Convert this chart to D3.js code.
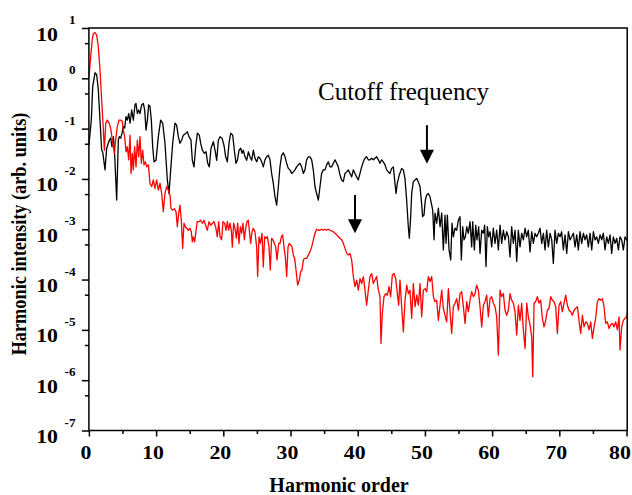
<!DOCTYPE html>
<html><head><meta charset="utf-8">
<script src="https://cdn.jsdelivr.net/npm/d3@7"></script>
<style>body{margin:0;background:#fff} svg{display:block}</style>
</head><body>
<svg id="c" width="632" height="495"></svg>
<script>
// [harmonic order, log10(harmonic intensity)]
const blackData = [[0,-1.33],[0.36,-0.83],[0.56,-0.17],[0.91,0.11],[1.16,0.07],[1.40,-0.23],[1.65,-0.83],[1.90,-1.43],[2.05,-1.46],[2.40,-1.82],[2.64,-1.39],[3.04,-1.23],[3.24,-1.19],[3.44,-1.36],[3.64,-1.16],[3.79,-1.39],[4.13,-2.42],[4.38,-1.23],[4.53,-1.16],[4.73,-1.19],[4.93,-1.09],[5.12,-0.96],[5.32,-0.99],[5.52,-0.76],[5.72,-0.83],[5.92,-0.70],[6.12,-0.89],[6.37,-0.63],[6.61,-0.83],[6.86,-0.53],[7.01,-0.50],[7.21,-0.70],[7.41,-0.63],[7.60,-0.70],[7.85,-0.53],[8.10,-0.50],[8.30,-0.63],[8.50,-1.03],[8.70,-0.83],[8.89,-0.53],[9.09,-0.56],[9.29,-0.83],[9.49,-1.36],[9.69,-1.66],[9.99,-1.63],[10.33,-1.16],[10.68,-0.83],[10.98,-0.89],[11.32,-1.29],[11.67,-2.02],[11.92,-2.29],[12.17,-1.82],[12.47,-1.29],[12.81,-0.89],[13.06,-0.93],[13.31,-1.16],[13.56,-1.29],[13.80,-1.23],[14.05,-1.13],[14.45,-1.09],[14.65,-1.06],[14.89,-1.16],[15.19,-1.23],[15.39,-1.63],[15.64,-1.76],[15.89,-1.36],[16.14,-1.09],[16.43,-1.13],[16.63,-1.29],[16.88,-1.43],[17.18,-1.49],[17.43,-1.46],[17.68,-1.69],[17.92,-1.76],[18.17,-1.39],[18.52,-1.26],[18.77,-1.43],[19.02,-1.63],[19.26,-1.23],[19.51,-1.16],[19.81,-1.19],[20.10,-1.33],[20.35,-1.56],[20.60,-1.66],[20.85,-1.29],[21.10,-1.09],[21.40,-1.13],[21.64,-1.43],[21.89,-1.69],[22.09,-1.63],[22.34,-1.43],[22.59,-1.39],[22.79,-1.49],[22.98,-1.43],[23.23,-1.56],[23.48,-1.63],[23.73,-1.46],[23.97,-1.56],[24.22,-1.63],[24.47,-1.43],[24.72,-1.59],[24.97,-1.66],[25.21,-1.56],
[25.46,-1.59],[25.71,-1.66],[25.95,-1.76],[26.20,-1.62],[26.45,-1.56],[26.70,-1.53],[26.95,-1.62],[27.19,-1.89],[27.44,-2.09],[27.69,-2.35],[27.94,-2.52],[28.19,-2.15],[28.43,-1.76],[28.68,-1.53],[28.93,-1.48],[29.18,-1.56],[29.43,-1.69],[29.67,-1.79],[29.92,-1.82],[30.17,-1.89],[30.42,-1.86],[30.67,-1.82],[30.91,-1.76],[31.16,-1.72],[31.41,-1.69],[31.66,-1.76],[31.91,-1.89],[32.15,-1.82],[32.40,-1.62],[32.65,-1.56],[32.90,-1.56],[33.15,-1.62],[33.39,-1.82],[33.64,-2.15],[33.89,-2.29],[34.14,-2.42],[34.39,-2.15],[34.63,-1.89],[34.88,-1.82],[35.13,-1.82],[35.38,-1.72],[35.63,-1.66],[35.87,-1.76],[36.12,-1.76],[36.37,-1.69],[36.62,-1.62],[36.87,-1.69],[37.11,-1.76],[37.36,-1.92],[37.61,-2.02],[37.86,-2.05],[38.11,-1.89],[38.35,-1.86],[38.60,-1.82],[38.85,-1.89],[39.10,-1.96],[39.35,-1.82],[39.59,-1.89],[39.84,-1.96],[40.09,-2.02],[40.34,-1.89],[40.59,-1.76],[40.83,-1.66],[41.08,-1.59],[41.33,-1.56],[41.58,-1.62],[41.83,-1.62],[42.07,-1.59],[42.32,-1.62],[42.57,-1.59],[42.82,-1.56],[43.07,-1.62],[43.31,-1.69],[43.56,-1.62],[43.81,-1.66],[44.06,-1.72],[44.31,-1.82],[44.55,-1.86],[44.80,-1.89],[45.05,-1.79],[45.30,-1.76],[45.55,-2.09],[45.70,-2.29],[45.89,-2.09],[46.19,-1.92],[46.54,-1.79],[46.79,-1.82],[47.03,-1.99],[47.28,-2.42],[47.53,-2.95],[47.68,-3.18],[47.88,-2.75],[48.03,-2.29],[48.27,-2.06],[48.52,-2.02],[48.77,-1.99],[49.02,-2.06],[49.27,-2.15],[49.51,-2.49],[49.66,-2.75],[49.86,-2.72],[50.06,-2.42],[50.26,-2.32],[50.50,-2.29],[50.75,-2.35],
[51.16,-2.62],[51.36,-3.21],[51.50,-2.68],[51.75,-2.88],[52.00,-2.58],[52.25,-2.95],[52.50,-2.68],[52.74,-3.41],[52.99,-2.72],[53.14,-3.28],[53.34,-2.72],[53.59,-3.41],[53.84,-3.61],[54.03,-2.88],[54.23,-3.15],[54.48,-2.98],[54.73,-3.02],[54.98,-2.82],[55.22,-2.75],[55.42,-3.61],[55.62,-2.95],[55.82,-3.21],[56.02,-3.15],[56.22,-2.95],[56.46,-3.08],[56.71,-2.85],[56.96,-3.35],[57.11,-2.85],[57.36,-3.41],[57.56,-2.92],[57.75,-3.21],[58.00,-2.95],[58.20,-3.48],[58.45,-3.02],[58.70,-3.08],[58.89,-2.92],[59.09,-3.74],[59.29,-2.95],[59.49,-3.15],[59.69,-3.05],[59.94,-3.35],[60.18,-2.98],[60.43,-3.28],[60.68,-3.02],[60.93,-3.41],[61.18,-2.92],[61.42,-3.28],[61.67,-3.02],[61.92,-3.21],[62.17,-3.05],[62.42,-3.15],[62.66,-3.55],[62.91,-2.95],[63.16,-3.28],[63.41,-3.02],[63.66,-3.64],[63.90,-3.02],[64.15,-3.35],[64.40,-3.08],[64.65,-3.21],[64.90,-2.98],[65.14,-3.15],[65.39,-3.02],[65.64,-3.45],[65.89,-3.05],[66.14,-3.28],[66.38,-3.08],[66.63,-3.15],[66.88,-3.08],[67.13,-2.98],[67.38,-3.28],[67.63,-3.08],[67.87,-3.41],[68.12,-3.02],[68.37,-3.35],[68.62,-3.08],[68.87,-3.21],[69.11,-3.68],[69.36,-3.02],[69.61,-3.28],[69.86,-3.08],[70.11,-3.15],[70.35,-3.05],[70.60,-3.41],[70.85,-3.11],[71.10,-3.48],[71.35,-3.05],[71.59,-3.21],[71.84,-3.15],[72.09,-3.08],[72.34,-3.35],[72.59,-3.11],[72.83,-3.41],[73.08,-3.05],[73.33,-3.28],[73.58,-3.08],[73.83,-3.21],[74.07,-3.11],[74.32,-3.35],[74.57,-3.08],[74.82,-3.41],[75.07,-3.05],[75.31,-3.21],[75.56,-3.15],[75.81,-3.28],[76.06,-3.11],[76.31,-3.21],[76.55,-3.08],[76.80,-3.41],[77.05,-3.15],[77.30,-3.28],[77.55,-3.11],[77.79,-3.48],[78.04,-3.15],[78.29,-3.28],[78.54,-3.18],[78.79,-3.41],[79.03,-3.15],[79.28,-3.21],[79.53,-3.41],[79.78,-3.15],[80.03,-3.21],[80.27,-3.18]];

const redData = [[0,0.00],[0.31,0.50],[0.51,0.79],[0.66,0.89],[0.91,0.91],[1.16,0.86],[1.40,0.63],[1.65,0.17],[1.90,-0.43],[2.15,-1.03],[2.30,-1.43],[2.50,-0.90],[2.74,-0.83],[3.04,-0.90],[3.29,-1.03],[3.54,-1.29],[3.79,-1.49],[3.98,-1.23],[4.23,-0.96],[4.48,-0.83],[4.73,-0.83],[4.98,-0.86],[5.12,-1.03],[5.32,-1.16],[5.52,-1.46],[5.72,-1.36],[5.92,-1.62],[6.12,-1.13],[6.27,-1.89],[6.47,-1.49],[6.61,-1.82],[6.81,-1.36],[7.01,-1.76],[7.21,-1.23],[7.41,-1.56],[7.60,-1.16],[7.80,-1.69],[8.00,-1.43],[8.20,-1.72],[8.40,-1.66],[8.60,-1.76],[8.85,-1.72],
[9.09,-2.09],[9.34,-2.15],[9.59,-2.02],[9.83,-2.19],[10.08,-2.02],[10.33,-2.22],[10.58,-2.09],[10.83,-2.29],[11.07,-2.65],[11.32,-2.29],[11.57,-2.15],[11.82,-2.22],[12.07,-2.32],[12.22,-2.59],[12.46,-2.62],[12.71,-2.59],[12.96,-2.65],[13.16,-2.95],[13.36,-2.68],[13.55,-2.52],[13.75,-2.82],[13.95,-3.38],[14.15,-2.88],[14.35,-2.95],[14.55,-2.98],[14.79,-3.02],[15.04,-2.98],[15.24,-3.05],[15.39,-3.25],[15.54,-3.15],[15.74,-3.25],[15.94,-3.02],[16.13,-2.85],[16.38,-2.85],[16.63,-2.82],[16.88,-2.88],[17.13,-2.82],[17.37,-2.92],[17.62,-3.02],[17.87,-2.85],[18.12,-2.92],[18.37,-2.88],[18.61,-2.85],[18.86,-2.95],[19.11,-3.15],[19.31,-2.85],[19.51,-3.15],[19.75,-3.21],[19.95,-2.85],[20.20,-2.88],[20.40,-3.02],[20.60,-2.85],[20.80,-3.02],[20.99,-2.88],[21.19,-3.02],[21.34,-3.35],[21.54,-2.88],[21.74,-2.98],[21.94,-3.18],[22.14,-2.88],[22.33,-3.28],[22.53,-2.95],[22.73,-3.08],[22.93,-2.88],[23.13,-3.21],[23.33,-2.98],[23.52,-2.85],[23.72,-2.82],[23.87,-3.02],[24.07,-3.28],[24.27,-3.05],[24.47,-2.98],[24.71,-3.05],[24.96,-3.35],[25.11,-3.94],[25.31,-3.15],[25.51,-3.28],[25.76,-3.08],[25.95,-3.75],[26.15,-3.15],[26.35,-3.18],[26.55,-3.15],[26.80,-3.35],[26.99,-3.81],[27.19,-3.18],[27.39,-3.21],[27.59,-3.28],[27.79,-3.35],[27.99,-3.61],[28.24,-3.28],[28.44,-3.28],[28.63,-3.15],[28.83,-3.11],[29.03,-3.35],[29.23,-3.55],[29.43,-3.94],[29.63,-3.35],[29.82,-3.28],[30.02,-3.31],[30.22,-3.35],[30.42,-3.51],[30.62,-3.58],[30.82,-3.81],[31.06,-4.11],[31.31,-4.01],[31.51,-3.84],[31.71,-3.81],[31.91,-3.61],[32.11,-3.58],[32.40,-3.58],[32.65,-3.51],[32.90,-3.45],[33.15,-3.35],[33.40,-3.21],[33.64,-3.08],[33.89,-3.00],[34.14,-3.02],[34.39,-3.02],[34.64,-3.00],[34.88,-3.02],[35.13,-3.00],[35.38,-3.02],[35.63,-3.00],[35.88,-3.02],[36.12,-3.03],[36.37,-3.05],[36.62,-3.08],[36.87,-3.11],[37.12,-3.15],[37.36,-3.18],[37.61,-3.21],[37.86,-3.28],[38.11,-3.38],[38.36,-3.48],[38.60,-3.51],[38.85,-3.48],[39.10,-3.61],[39.35,-3.94],[39.60,-4.14],[39.84,-4.01],[40.09,-4.21],[40.34,-3.98],[40.59,-4.08],[40.84,-3.94],[41.08,-4.21],[41.33,-4.51],[41.58,-4.21],[41.83,-3.94],[42.08,-3.88],[42.32,-4.08],[42.57,-4.01],[42.82,-3.94],[43.07,-4.21],[43.32,-4.34],[43.46,-5.27],[43.66,-4.67],[43.91,-4.34],[44.16,-4.28],[44.41,-4.31],[44.66,-4.14],[44.90,-4.34],[45.15,-3.91],[45.40,-3.88],[45.65,-3.98],[45.90,-4.28],[46.09,-4.51],[46.29,-4.01],
[46.54,-4.54],[46.79,-5.04],[47.04,-4.41],[47.29,-4.11],[47.54,-4.28],[47.78,-4.21],[48.03,-4.77],[48.28,-4.08],[48.53,-4.54],[48.78,-4.31],[49.02,-4.51],[49.27,-4.08],[49.52,-4.74],[49.77,-4.21],[50.02,-4.18],[50.26,-4.24],[50.51,-3.94],[50.76,-4.04],[51.01,-3.94],[51.26,-4.34],[51.50,-4.44],[51.75,-4.41],[52.00,-4.81],[52.25,-4.51],[52.50,-4.21],[52.74,-4.57],[52.99,-4.71],[53.24,-4.84],[53.49,-4.18],[53.74,-4.64],[53.98,-5.07],[54.23,-4.54],[54.48,-4.47],[54.73,-4.38],[54.98,-4.61],[55.22,-4.28],[55.47,-4.24],[55.72,-4.54],[55.97,-4.87],[56.22,-4.44],[56.46,-4.64],[56.71,-4.41],[56.96,-4.24],[57.21,-4.34],[57.46,-4.28],[57.70,-4.11],[57.95,-4.21],[58.20,-4.54],[58.45,-4.94],[58.70,-4.51],[58.94,-4.44],[59.19,-4.31],[59.44,-4.74],[59.69,-4.38],[59.94,-4.34],[60.18,-4.47],[60.43,-4.54],[60.68,-4.74],[60.93,-5.50],[61.18,-4.21],[61.42,-4.34],[61.67,-4.28],[61.92,-4.61],[62.17,-4.71],[62.42,-4.61],[62.66,-4.28],[62.91,-4.41],[63.16,-4.47],[63.41,-4.64],[63.66,-5.10],[63.91,-4.51],[64.15,-4.81],[64.40,-4.47],[64.65,-5.00],[64.90,-5.37],[65.15,-4.47],[65.39,-4.74],[65.64,-4.90],[65.89,-5.14],[66.04,-5.93],[66.24,-4.47],[66.48,-4.44],[66.73,-4.34],[66.98,-4.47],[67.23,-4.41],[67.48,-4.77],[67.72,-4.94],[67.97,-4.81],[68.22,-4.61],[68.47,-4.57],[68.72,-4.34],[68.96,-4.41],[69.21,-4.44],[69.46,-4.54],[69.71,-5.07],[69.96,-4.51],[70.20,-4.44],[70.45,-4.64],[70.70,-4.47],[70.95,-4.31],[71.20,-4.51],[71.45,-4.61],[71.69,-4.64],[71.94,-4.71],[72.19,-4.61],[72.44,-4.57],[72.69,-4.54],[72.93,-4.81],[73.18,-5.07],[73.43,-4.71],[73.68,-4.94],[73.92,-4.84],[74.17,-4.87],[74.42,-5.00],[74.67,-4.84],[74.92,-5.17],[75.17,-4.94],[75.41,-4.77],[75.66,-4.44],[75.91,-4.38],[76.16,-4.41],[76.41,-4.38],[76.65,-4.54],[76.90,-4.87],[77.15,-4.84],[77.40,-4.97],[77.65,-4.90],[77.89,-4.87],[78.14,-4.94],[78.39,-4.84],[78.64,-5.00],[78.89,-4.74],[79.03,-5.40],[79.28,-4.94],[79.53,-4.81],[79.78,-4.77],[80.03,-4.74],[80.27,-4.57]];

const xTickValues = [0,10,20,30,40,50,60,70,80];
const xMinorTicks = [5,15,25,35,45,55,65,75];
const yExponents = [1,0,-1,-2,-3,-4,-5,-6,-7];
const yMinorTicks = [5,0.5,0.05,0.005,5e-4,5e-5,5e-6,5e-7];
const xTitle = "Harmonic order";
const yTitle = "Harmonic intensity (arb. units)";
const annotationText = "Cutoff frequency";
const arrowOrder = [50.3, 39.6];
const arrowTop = [0.117, 0.0048];
const arrowTip = [0.020, 0.00083];

const FONT = "'Times New Roman','Liberation Serif',serif";
const svg = d3.select("#c");
const W = 632;
const L = 88.9, R = 627.2, T = 28, B = 430.5;
const x = d3.scaleLinear().domain([0, 80.1]).range([L, R]);
const y = d3.scaleLog().domain([1e-7, 10]).range([B, T]);

svg.append("defs").append("clipPath").attr("id", "clip")
  .append("rect").attr("x", L).attr("y", T).attr("width", R - L).attr("height", B - T);

const line = d3.line().x(d => x(d[0])).y(d => y(Math.pow(10, d[1])));
const plot = svg.append("g").attr("clip-path", "url(#clip)");
plot.append("path").datum(blackData).attr("d", line)
  .attr("fill", "none").attr("stroke", "#000").attr("stroke-width", 1.3).attr("stroke-linejoin", "round");
plot.append("path").datum(redData).attr("d", line)
  .attr("fill", "none").attr("stroke", "#ff0000").attr("stroke-width", 1.3).attr("stroke-linejoin", "round");

// axis ticks
function styleAxis(g) { g.select(".domain").remove(); g.selectAll("line").attr("stroke", "#000").attr("stroke-width", 1.5); }
svg.append("g").attr("transform", `translate(0,${B})`)
  .call(d3.axisBottom(x).tickValues(xTickValues).tickSize(6).tickFormat("")).call(styleAxis);
svg.append("g").attr("transform", `translate(0,${B})`)
  .call(d3.axisBottom(x).tickValues(xMinorTicks).tickSize(3.5).tickFormat("")).call(styleAxis);
svg.append("g").attr("transform", `translate(${L},0)`)
  .call(d3.axisLeft(y).tickValues(yExponents.map(e => Math.pow(10, e))).tickSize(7).tickFormat("")).call(styleAxis);
svg.append("g").attr("transform", `translate(${L},0)`)
  .call(d3.axisLeft(y).tickValues(yMinorTicks).tickSize(4).tickFormat("")).call(styleAxis);

// frame
svg.append("rect").attr("x", L).attr("y", T).attr("width", R - L).attr("height", B - T)
  .attr("fill", "none").attr("stroke", "#000").attr("stroke-width", 1.5);

// x tick labels
const xl = svg.append("g");
xTickValues.forEach(v => {
  const cx = Math.min(x(v) - 3, W - 12);
  xl.append("g").attr("transform", `translate(${cx},459) scale(1.15,1)`)
    .append("text").attr("text-anchor", "middle").attr("font-family", FONT)
    .attr("font-weight", "bold").attr("font-size", 19).text(v);
});
// y tick labels 10^n
const yl = svg.append("g");
yExponents.forEach(e => {
  const ty = y(Math.pow(10, e));
  yl.append("g").attr("transform", `translate(58,${ty + 12.5}) scale(1.15,1)`)
    .append("text").attr("text-anchor", "end").attr("font-family", FONT)
    .attr("font-weight", "bold").attr("font-size", 19).text("10");
  yl.append("g").attr("transform", `translate(75.5,${ty - 4}) scale(1.15,1)`)
    .append("text").attr("text-anchor", "end").attr("font-family", FONT)
    .attr("font-weight", "bold").attr("font-size", 11.5).text(String(e));
});

// titles
svg.append("text").attr("x", (L + R) / 2 - 19).attr("y", 492).attr("text-anchor", "middle")
  .attr("font-family", FONT).attr("font-weight", "bold").attr("font-size", 20).text(xTitle);
svg.append("text").attr("transform", `translate(26,234) rotate(-90) scale(1,1.12)`).attr("text-anchor", "middle")
  .attr("font-family", FONT).attr("font-weight", "bold").attr("font-size", 18.3).text(yTitle);

// annotation
svg.append("text").attr("x", 318).attr("y", 100).attr("font-family", FONT)
  .attr("font-size", 25).text(annotationText);
arrowOrder.forEach((a, i) => {
  const ax = x(a), y0 = y(arrowTop[i]), y1 = y(arrowTip[i]);
  svg.append("line").attr("x1", ax).attr("x2", ax).attr("y1", y0).attr("y2", y1 - 12)
    .attr("stroke", "#000").attr("stroke-width", 2);
  svg.append("path").attr("d", `M${ax - 7},${y1 - 14}L${ax + 7},${y1 - 14}L${ax},${y1}Z`).attr("fill", "#000");
});
</script>
</body></html>
